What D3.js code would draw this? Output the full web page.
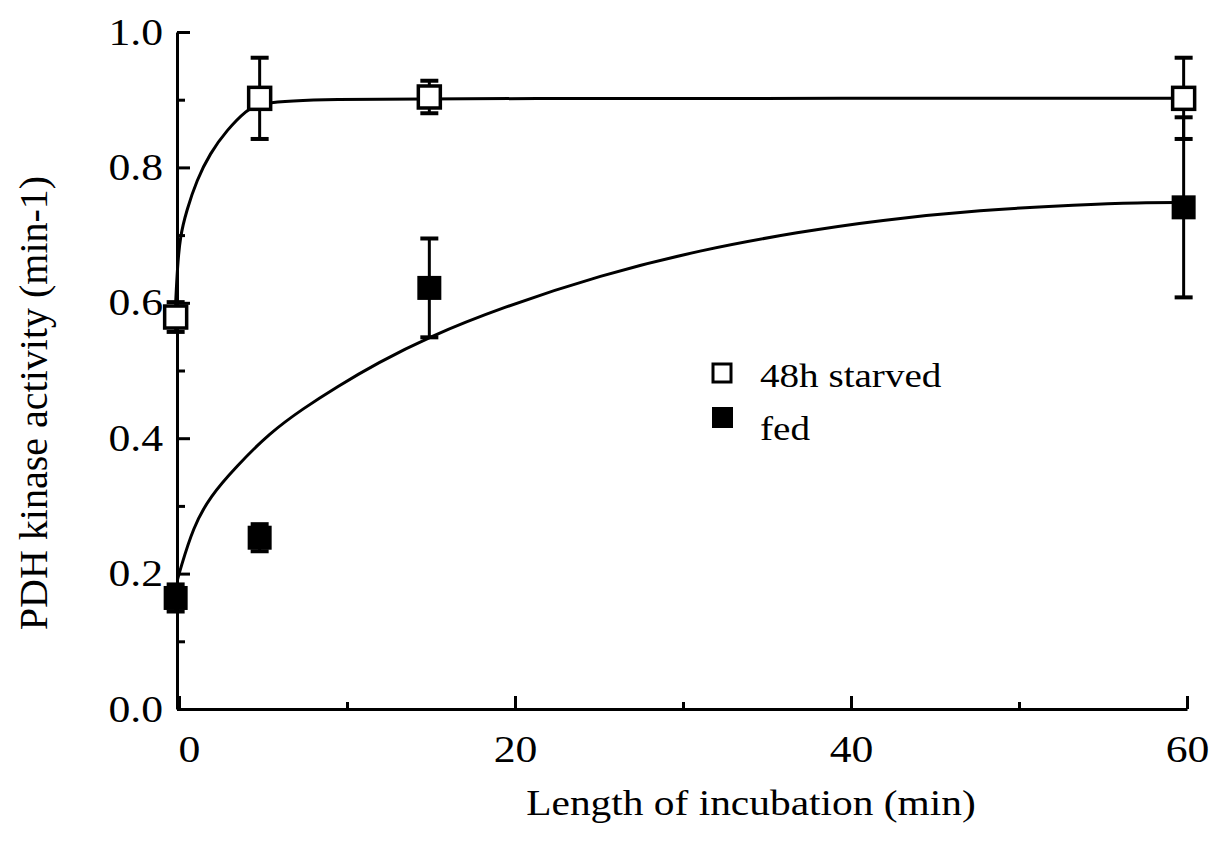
<!DOCTYPE html>
<html>
<head>
<meta charset="utf-8">
<script src="https://cdn.jsdelivr.net/npm/d3@7"></script>
<style>
body { margin: 0; background: #fff; }
text { font-family: "Liberation Serif", "Times New Roman", serif; fill: #000; }
</style>
</head>
<body>
<script>
// valores (tiempo en min, actividad en min-1)
var tiempos = [-0.2, 4.8, 14.9, 59.8];
var ayunoMedia = [0.579, 0.902, 0.904, 0.902];
var ayunoError = [0.022, 0.06, 0.024, 0.06];
var comidoMedia = [0.164, 0.253, 0.622, 0.741];
var comidoError = [0.02, 0.02, 0.073, 0.133];

// curvas ajustadas, puntos
var curvaAyunoX = [-0.2, -0.1, 0.06, 0.46, 1.05, 1.85, 2.84, 4.03, 4.8, 8, 20, 40, 59.8];
var curvaAyunoY = [0.60, 0.65, 0.698, 0.737, 0.781, 0.821, 0.855, 0.885, 0.895, 0.901, 0.902, 0.902, 0.902];
var curvaComidoX = [-0.1, 0.06, 0.85, 1.85, 3.4, 5.4, 7.4, 9.4, 11.8, 14.9, 19.1, 25.1, 31.0, 37.0, 41.7, 47.7, 53.6, 57.2, 59.8];
var curvaComidoY = [0.19, 0.205, 0.269, 0.314, 0.358, 0.408, 0.444, 0.476, 0.511, 0.550, 0.592, 0.641, 0.678, 0.705, 0.722, 0.737, 0.745, 0.748, 0.748];

var ticksX = [0, 20, 40, 60];
var ticksXmenor = [10, 30, 50];
var ticksY = [0, 0.2, 0.4, 0.6, 0.8, 1.0];
var ticksYmenor = [0.1, 0.3, 0.5, 0.7, 0.9];

var leyenda = ["48h starved", "fed"];

var W = 1216, H = 842;
var estirar = 1.15; // el escaneo esta algo estirado en horizontal

var svg = d3.select("body").append("svg")
  .attr("width", W)
  .attr("height", H);

var x = d3.scaleLinear().domain([-0.12, 60]).range([177, 1187]);
var y = d3.scaleLinear().domain([0, 1]).range([709, 32]);

function ensancha(sel) {
  sel.each(function() {
    var l = this.getComputedTextLength();
    d3.select(this).attr("textLength", l * estirar).attr("lengthAdjust", "spacingAndGlyphs");
  });
}

// eje X
var ejeX = svg.append("g")
  .attr("transform", "translate(0,709)")
  .call(d3.axisBottom(x).tickValues(ticksX).tickSize(-13).tickPadding(26).tickSizeOuter(0));
svg.append("g")
  .attr("transform", "translate(0,709)")
  .call(d3.axisBottom(x).tickValues(ticksXmenor).tickSize(-7).tickFormat(""))
  .select(".domain").remove();
// el "0" esta algo corrido a la derecha en el original
ejeX.selectAll(".tick text").filter(function(d) { return d === 0; }).attr("dx", 10);

// eje Y
var ejeY = svg.append("g")
  .attr("transform", "translate(177,0)")
  .call(d3.axisLeft(y).tickValues(ticksY).tickFormat(d3.format(".1f")).tickSize(-13).tickPadding(14).tickSizeOuter(0));
svg.append("g")
  .attr("transform", "translate(177,0)")
  .call(d3.axisLeft(y).tickValues(ticksYmenor).tickSize(-8).tickFormat(""))
  .select(".domain").remove();

svg.selectAll(".domain, .tick line").attr("stroke", "#000").attr("stroke-width", 3);
svg.selectAll(".tick text").attr("font-size", 38).attr("font-family", null).call(ensancha);

// curvas
var linea = d3.line()
  .x(function(d) { return x(d[0]); })
  .y(function(d) { return y(d[1]); })
  .curve(d3.curveBasis);

svg.append("path")
  .datum(d3.zip(curvaAyunoX, curvaAyunoY))
  .attr("d", linea)
  .attr("fill", "none").attr("stroke", "#000").attr("stroke-width", 3);
svg.append("path")
  .datum(d3.zip(curvaComidoX, curvaComidoY))
  .attr("d", linea)
  .attr("fill", "none").attr("stroke", "#000").attr("stroke-width", 3);

// barras de error
function barrasError(medias, errores) {
  var g = svg.append("g");
  tiempos.forEach(function(t, i) {
    var cx = x(t);
    var arriba = y(medias[i] + errores[i]);
    var abajo = y(medias[i] - errores[i]);
    g.append("line").attr("x1", cx).attr("x2", cx).attr("y1", arriba).attr("y2", abajo)
      .attr("stroke", "#000").attr("stroke-width", 3);
    [arriba, abajo].forEach(function(yy) {
      g.append("line").attr("x1", cx - 9).attr("x2", cx + 9).attr("y1", yy).attr("y2", yy)
        .attr("stroke", "#000").attr("stroke-width", 4);
    });
  });
}
barrasError(ayunoMedia, ayunoError);
barrasError(comidoMedia, comidoError);

// puntos
svg.selectAll(".ayuno")
  .data(d3.zip(tiempos, ayunoMedia))
  .enter().append("rect")
  .attr("class", "ayuno")
  .attr("x", function(d) { return x(d[0]) - 11; })
  .attr("y", function(d) { return y(d[1]) - 11; })
  .attr("width", 22).attr("height", 22)
  .attr("fill", "#fff").attr("stroke", "#000").attr("stroke-width", 3.5);

svg.selectAll(".comido")
  .data(d3.zip(tiempos, comidoMedia))
  .enter().append("rect")
  .attr("class", "comido")
  .attr("x", function(d) { return x(d[0]) - 12; })
  .attr("y", function(d) { return y(d[1]) - 12; })
  .attr("width", 24).attr("height", 24)
  .attr("fill", "#000");

// leyenda
var ley = svg.append("g");
ley.append("rect").attr("x", 713).attr("y", 364).attr("width", 18).attr("height", 18)
  .attr("fill", "#fff").attr("stroke", "#000").attr("stroke-width", 3);
ley.append("rect").attr("x", 712).attr("y", 407).attr("width", 21).attr("height", 21)
  .attr("fill", "#000");
ley.selectAll(".ley-texto")
  .data(leyenda)
  .enter().append("text")
  .attr("class", "ley-texto")
  .attr("x", 760)
  .attr("y", function(d, i) { return 387 + i * 53; })
  .attr("font-size", 34)
  .text(function(d) { return d; })
  .call(ensancha);

// titulos de los ejes
svg.append("text")
  .attr("x", 751).attr("y", 815)
  .attr("text-anchor", "middle")
  .attr("font-size", 36)
  .text("Length of incubation (min)")
  .call(ensancha);

svg.append("text")
  .attr("transform", "translate(47,403) rotate(-90)")
  .attr("text-anchor", "middle")
  .attr("font-size", 40)
  .text("PDH kinase activity (min-1)");
</script>
</body>
</html>
